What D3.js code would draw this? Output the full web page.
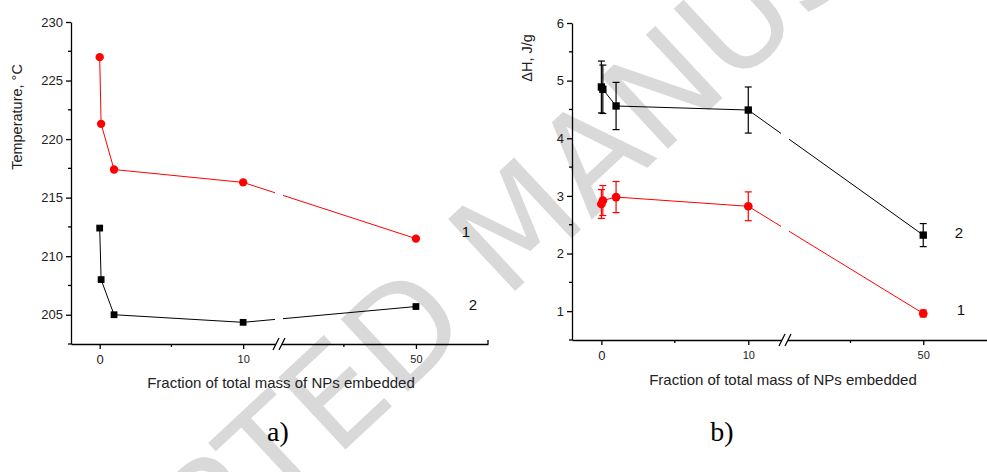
<!DOCTYPE html>
<html>
<head>
<meta charset="utf-8">
<script src="https://cdn.jsdelivr.net/npm/d3@7"></script>
<style>
  body { margin: 0; background: #fff; }
  svg { display: block; font-family: "Liberation Sans", Arial, sans-serif; }
</style>
</head>
<body>
<svg id="drawing_region"></svg>
<script>
// data
const fractions = [0, 0.1, 1, 10, 50];
const tempSeries1 = [227.0, 221.3, 217.4, 216.3, 211.5];   // curve 1, red circles
const tempSeries2 = [212.4, 208.0, 205.0, 204.35, 205.7];  // curve 2, black squares
const dhSeries1 = [2.86, 2.92, 2.98, 2.82, 0.96];
const dhErr1 = [0.25, 0.26, 0.27, 0.25, 0.06];
const dhSeries2 = [4.89, 4.85, 4.56, 4.49, 2.32];
const dhErr2 = [0.45, 0.42, 0.41, 0.40, 0.20];
const tempTicks = [205, 210, 215, 220, 225, 230];
const dhTicks = [1, 2, 3, 4, 5, 6];
const xTicks = [0, 10, 50];
const xMinorTicks = [5, 45];

const svg = d3.select("#drawing_region")
    .attr("width", 987)
    .attr("height", 472);

// watermark behind everything
svg.append("text")
    .attr("transform", "translate(520,223) rotate(-43)")
    .attr("text-anchor", "middle")
    .attr("dominant-baseline", "central")
    .attr("font-family", "DejaVu Sans, sans-serif")
    .attr("font-size", 135)
    .attr("fill", "#d9d9d9")
    .text("ACCEPTED MANUSCRIPT");

class BreakChart {
    constructor(config, series) {
        this.config = config;
        this.series = series;
        this.init();
    }
    init() {
        let self = this;
        const c = self.config;
        self.x = d3.scaleLinear()
            .domain([-2, 12.5, 40.5, 55])
            .range([c.left, c.brk, c.brk, c.right]);
        self.y = d3.scaleLinear()
            .domain(c.yDomain)
            .range([c.bottom, c.top]);
        self.g = svg.append("g");

        const clipId = "clip" + c.name;
        self.g.append("clipPath").attr("id", clipId)
            .selectAll("rect")
            .data([[c.left - 10, c.brk - 4], [c.brk + 4, 990]])
            .join("rect")
            .attr("x", d => d[0])
            .attr("width", d => d[1] - d[0])
            .attr("y", 0)
            .attr("height", 472);
        self.plot = self.g.append("g").attr("clip-path", `url(#${clipId})`);
        self.marks = self.g.append("g");
    }
    render() {
        let self = this;
        const c = self.config;

        // y axis
        const yMinor = d3.range(c.yDomain[0], c.yDomain[1] + 0.001, c.yStep / 2)
            .filter(v => !c.yTicks.includes(v));
        const yAxis = self.g.append("g")
            .attr("transform", `translate(${c.left},0)`)
            .call(d3.axisLeft(self.y).tickValues(c.yTicks).tickFormat(d3.format("d"))
                .tickSize(5).tickPadding(3).tickSizeOuter(0));
        yAxis.selectAll(".tick text")
            .attr("font-size", 13)
            .attr("font-family", "Liberation Sans, Arial, sans-serif")
            .attr("fill", "#222");
        yAxis.selectAll(".minor").data(yMinor).join("line")
            .attr("class", "minor")
            .attr("x1", -3).attr("x2", 0)
            .attr("y1", d => self.y(d)).attr("y2", d => self.y(d))
            .attr("stroke", "#000");
        yAxis.selectAll("path, line").attr("stroke-width", 1.3);

        // x axis
        const xAxis = self.g.append("g")
            .attr("transform", `translate(0,${c.bottom})`)
            .call(d3.axisBottom(self.x).tickValues(xTicks).tickSize(5).tickPadding(6).tickSizeOuter(0));
        xAxis.selectAll(".tick text")
            .attr("font-family", "Liberation Sans, Arial, sans-serif")
            .attr("font-size", d => d === 0 ? 13 : 11)
            .attr("fill", "#222");
        xAxis.selectAll(".minor").data(xMinorTicks).join("line")
            .attr("class", "minor")
            .attr("x1", d => self.x(d)).attr("x2", d => self.x(d))
            .attr("y1", 0).attr("y2", 3)
            .attr("stroke", "#000");
        xAxis.append("line")
            .attr("x1", c.right).attr("x2", c.right)
            .attr("y1", 0).attr("y2", -4)
            .attr("stroke", "#000");
        xAxis.selectAll("path, line").attr("stroke-width", 1.3);

        // axis break
        xAxis.append("rect")
            .attr("x", c.brk - 3).attr("y", -2)
            .attr("width", 6).attr("height", 4)
            .attr("fill", "#fff");
        xAxis.selectAll(".brk").data([-3, 3]).join("line")
            .attr("class", "brk")
            .attr("x1", d => c.brk + d - 3).attr("y1", 6)
            .attr("x2", d => c.brk + d + 3).attr("y2", -6)
            .attr("stroke", "#000")
            .attr("stroke-width", 1.2);

        // titles
        self.g.append("text")
            .attr("transform", `translate(${c.yTitleX},${c.yTitleY}) rotate(-90)`)
            .attr("text-anchor", "middle")
            .attr("font-size", 14.5)
            .attr("fill", "#222")
            .text(c.yTitle);
        self.g.append("text")
            .attr("x", c.xTitleX).attr("y", c.xTitleY)
            .attr("text-anchor", "middle")
            .attr("font-size", 15)
            .attr("fill", "#222")
            .text("Fraction of total mass of NPs embedded");
        self.g.append("text")
            .attr("x", c.panelX).attr("y", 441)
            .attr("text-anchor", "middle")
            .attr("font-family", "Liberation Serif, Times New Roman, serif")
            .attr("font-size", 28)
            .text(c.panel);

        // series
        const line = d3.line()
            .x((d, i) => self.x(fractions[i]))
            .y(d => self.y(d));
        self.series.forEach(s => {
            self.plot.append("path")
                .datum(s.values)
                .attr("d", line)
                .attr("fill", "none")
                .attr("stroke", s.color)
                .attr("stroke-width", 1);

            if (s.err) {
                const eb = self.marks.selectAll(null)
                    .data(s.values.map((v, i) => ({x: fractions[i], v: v, e: s.err[i]})))
                    .join("g")
                    .attr("stroke", s.color)
                    .attr("stroke-width", 1.2);
                eb.append("line")
                    .attr("x1", d => self.x(d.x)).attr("x2", d => self.x(d.x))
                    .attr("y1", d => self.y(d.v - d.e)).attr("y2", d => self.y(d.v + d.e));
                [-1, 1].forEach(sg => {
                    eb.append("line")
                        .attr("x1", d => self.x(d.x) - 3.5).attr("x2", d => self.x(d.x) + 3.5)
                        .attr("y1", d => self.y(d.v + sg * d.e)).attr("y2", d => self.y(d.v + sg * d.e));
                });
            }

            const sym = d3.symbol()
                .type(s.shape === "square" ? d3.symbolSquare : d3.symbolCircle)
                .size(s.shape === "square" ? c.sqSize : c.ciSize);
            self.marks.selectAll(null)
                .data(s.values)
                .join("path")
                .attr("d", sym)
                .attr("transform", (d, i) => `translate(${self.x(fractions[i])},${self.y(d)})`)
                .attr("fill", s.color);

            self.marks.append("text")
                .attr("x", s.labelX).attr("y", s.labelY)
                .attr("text-anchor", "middle")
                .attr("font-size", 15)
                .attr("fill", "#111")
                .text(s.label);
        });
    }
}

const chartA = new BreakChart({
    name: "a", left: 71, brk: 279, right: 488, top: 22, bottom: 344,
    yDomain: [202.5, 230], yTicks: tempTicks, yStep: 5,
    yTitle: "Temperature, \u00B0C", yTitleX: 22, yTitleY: 117,
    xTitleX: 281, xTitleY: 388, panel: "a)", panelX: 278,
    sqSize: 46, ciSize: 55
}, [
    {values: tempSeries1, color: "#ff0000", shape: "circle", label: "1", labelX: 466, labelY: 237},
    {values: tempSeries2, color: "#000000", shape: "square", label: "2", labelX: 473, labelY: 310}
]);
chartA.render();

const chartB = new BreakChart({
    name: "b", left: 572, brk: 785, right: 996, top: 23, bottom: 340,
    yDomain: [0.5, 6], yTicks: dhTicks, yStep: 1,
    yTitle: "\u0394H, J/g", yTitleX: 532, yTitleY: 58,
    xTitleX: 783, xTitleY: 385, panel: "b)", panelX: 722,
    sqSize: 54, ciSize: 60
}, [
    {values: dhSeries2, color: "#000000", shape: "square", err: dhErr2, label: "2", labelX: 959, labelY: 238},
    {values: dhSeries1, color: "#ff0000", shape: "circle", err: dhErr1, label: "1", labelX: 961, labelY: 315}
]);
chartB.render();
</script>
</body>
</html>
